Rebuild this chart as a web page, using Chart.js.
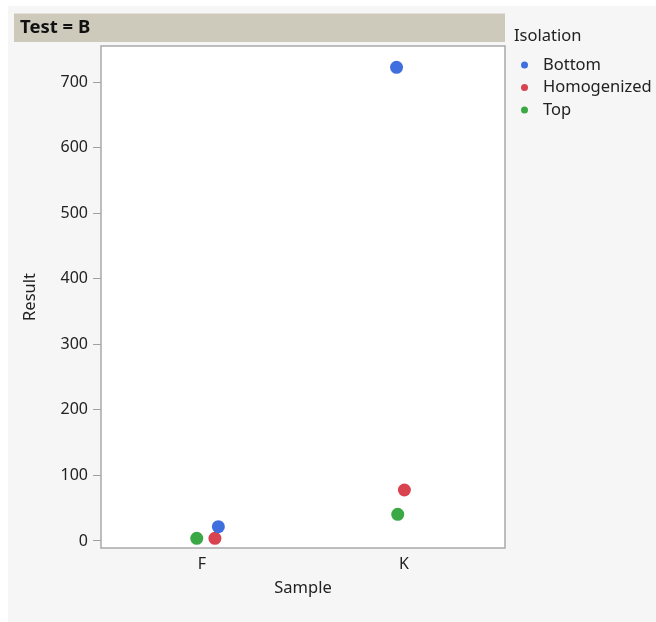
<!DOCTYPE html>
<html>
<head>
<meta charset="utf-8">
<script src="https://cdn.jsdelivr.net/npm/chart.js@4.4.1/dist/chart.umd.min.js"></script>
<style>
  html, body { margin: 0; padding: 0; background: #ffffff; }
  #wrap { width: 656px; height: 622px; position: relative; }
</style>
</head>
<body>
<div id="wrap"><canvas id="c" width="656" height="622"></canvas></div>
<script>
// ---- data ----
const categories = ["F", "K"];
const seriesNames = ["Bottom", "Homogenized", "Top"];
const seriesColors = ["#3f6fdf", "#d8434f", "#3aa845"];
// values per series, one per category
const bottomValues = [21.8, 722.4];
const homogenizedValues = [4.0, 77.8];
const topValues = [4.1, 40.7];
// horizontal jitter (in category units) as seen in the picture
const bottomJitter = [0.081, -0.037];
const homogenizedJitter = [0.064, 0.002];
const topJitter = [-0.026, -0.031];
const yTicks = [0, 100, 200, 300, 400, 500, 600, 700];
const panelTitle = "Test = B";
const legendTitle = "Isolation";
const xTitle = "Sample";
const yTitle = "Result";

const FONT = "'Noto Sans', 'Open Sans', sans-serif";

function pts(vals, jit) {
  return vals.map((v, i) => ({ x: i + jit[i], y: v }));
}
const allValues = [bottomValues, homogenizedValues, topValues];
const allJitter = [bottomJitter, homogenizedJitter, topJitter];

const datasets = seriesNames.map((n, k) => ({
  label: n,
  data: pts(allValues[k], allJitter[k]),
  backgroundColor: seriesColors[k],
  borderColor: seriesColors[k],
  pointRadius: 6.5,
  pointBorderWidth: 0,
  pointHoverRadius: 6.5
}));

const decor = {
  id: 'decor',
  beforeDraw(chart) {
    const ctx = chart.ctx;
    const a = chart.chartArea;
    ctx.save();
    ctx.fillStyle = '#f6f6f6';
    ctx.fillRect(8, 6, chart.width - 8, chart.height - 6);
    // panel header
    ctx.fillStyle = '#cdcabb';
    ctx.fillRect(14, 13.5, a.right - 14, 28.5);
    ctx.fillStyle = '#111111';
    ctx.font = "bold 18.5px " + FONT;
    ctx.textBaseline = 'middle';
    ctx.textAlign = 'left';
    ctx.fillText(panelTitle, 20, 28);
    // plot area
    ctx.fillStyle = '#ffffff';
    ctx.fillRect(a.left, a.top, a.right - a.left, a.bottom - a.top);
    ctx.restore();
  },
  afterDatasetsDraw(chart) {
    const ctx = chart.ctx;
    const a = chart.chartArea;
    ctx.save();
    ctx.strokeStyle = '#a9a9a9';
    ctx.lineWidth = 1.5;
    ctx.strokeRect(a.left, a.top, a.right - a.left, a.bottom - a.top);
    // legend
    ctx.fillStyle = '#222222';
    ctx.font = "16.5px " + FONT;
    ctx.textBaseline = 'middle';
    ctx.textAlign = 'left';
    ctx.fillText(legendTitle, 514, 36);
    chart.data.datasets.forEach((ds, i) => {
      const y = 65 + i * 22.5;
      ctx.fillStyle = ds.backgroundColor;
      ctx.beginPath();
      ctx.arc(524.5, y, 3.5, 0, Math.PI * 2);
      ctx.fill();
      ctx.fillStyle = '#222222';
      ctx.fillText(ds.label, 543, y);
    });
    ctx.restore();
  }
};

new Chart(document.getElementById('c'), {
  type: 'scatter',
  data: { datasets },
  plugins: [decor],
  options: {
    responsive: false,
    animation: false,
    devicePixelRatio: 1,
    layout: { padding: { left: 0, top: 46, right: 151, bottom: 0 } },
    plugins: { legend: { display: false }, tooltip: { enabled: false } },
    scales: {
      x: {
        type: 'linear',
        min: -0.5,
        max: 1.5,
        afterBuildTicks(s) { s.ticks = categories.map((c, i) => ({ value: i })); },
        afterFit(s) { s.height = 74; },
        ticks: {
          callback: (v) => categories[v] ?? '',
          color: '#222222',
          font: { family: FONT, size: 16 },
          padding: 7,
          maxRotation: 0
        },
        grid: { display: true, drawOnChartArea: false, drawTicks: true, tickLength: 0, color: 'rgba(0,0,0,0)' },
        border: { display: false },
        title: {
          display: true, text: xTitle, color: '#222222',
          font: { family: FONT, size: 16.5 },
          padding: { top: 0, bottom: 23.5 }
        }
      },
      y: {
        type: 'linear',
        min: -10.7,
        max: 755,
        afterBuildTicks(s) { s.ticks = yTicks.map(v => ({ value: v })); },
        afterFit(s) { s.width = 101; },
        ticks: {
          color: '#222222',
          font: { family: FONT, size: 16 },
          padding: 5
        },
        grid: { display: true, drawOnChartArea: false, drawTicks: true, tickLength: 8, color: '#a0a0a0', lineWidth: 1 },
        border: { display: false },
        title: {
          display: true, text: yTitle, color: '#222222',
          font: { family: FONT, size: 16.5 },
          padding: { top: 20, bottom: 0 }
        }
      }
    }
  }
});
</script>
</body>
</html>
